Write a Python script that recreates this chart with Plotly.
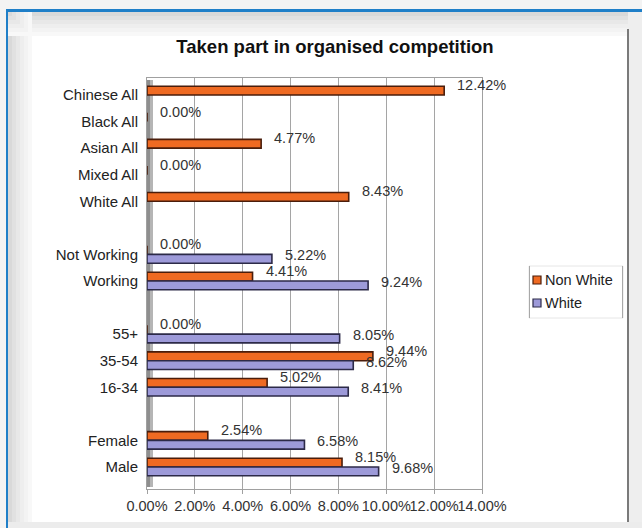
import plotly.graph_objects as go

# Participation rates (% taking part in organised competition)
categories = ["Chinese All", "Black All", "Asian All", "Mixed All", "White All", " ",
              "Not Working", "Working", "  ",
              "55+", "35-54", "16-34", "   ",
              "Female", "Male"]
non_white = [12.42, 0.00, 4.77, 0.00, 8.43, None,
             0.00, 4.41, None,
             0.00, 9.44, 5.02, None,
             2.54, 8.15]
white = [None, None, None, None, None, None,
         5.22, 9.24, None,
         8.05, 8.62, 8.41, None,
         6.58, 9.68]
series_names = ["Non White", "White"]
series_fill = ["#ef6a22", "#9d9ad9"]
series_edge = ["#4a1d0b", "#2c2a48"]
label_lift = [10, -1]   # vertical nudge of value labels (px) per series

W, H = 642, 528
PL, PR, PT, PB = 147, 482, 78, 489   # plot area in pixels

def px(x):
    return (x - PL) / (PR - PL)

def py(y):
    return (PB - y) / (PB - PT)

FONT = "Liberation Sans, Arial, sans-serif"

fig = go.Figure()
annotations = []
for name, vals, fill, edge, lift in zip(series_names, [non_white, white],
                                        series_fill, series_edge, label_lift):
    fig.add_trace(go.Bar(
        y=categories, x=vals, name=name, orientation="h",
        marker=dict(color=fill, line=dict(color=edge, width=1.6)),
        showlegend=False, hoverinfo="x+y+name",
    ))
    # value labels just beyond each bar end
    for cat, v in zip(categories, vals):
        if v is None:
            continue
        annotations.append(dict(
            text=f"{v:.2f}%", xref="x", yref="y", x=v, y=cat,
            xanchor="left", yanchor="middle", xshift=11, yshift=lift,
            showarrow=False, font=dict(family=FONT, size=14.5, color="#333")))

shapes = []

def rect(x0, y0, x1, y1, color, line=None, layer="below"):
    shapes.append(dict(type="rect", xref="paper", yref="paper",
                       x0=px(x0), x1=px(x1), y0=py(y1), y1=py(y0),
                       fillcolor=color,
                       line=line if line else dict(width=0), layer=layer))

# outer frame
rect(0, 0, W, 9, "#f3f3f3")
rect(0, 0, 6, H, "#f3f3f3")
rect(6, 9, W, 12, "#1f7fc8")
rect(6, 9, 8, H, "#1f7fc8")
# soft grey shading inside the frame
for i, c in enumerate(["#d9d9d9", "#e1e1e1", "#e8e8e8", "#eeeeee", "#f3f3f3", "#f8f8f8"]):
    rect(8, 12 + i * 4, 628, 16 + i * 4, c)
    rect(8 + i * 4, 12, 12 + i * 4, 522, c)
rect(628, 12, W, H, "#eeeeee")
rect(8, 522, W, H, "#ececec")
rect(627, 29, 629, 522, "#7a7a7a")
# shaded side wall of the plot
rect(147, 80, 150, 487, "#8e8e8e")
rect(150, 80, 153, 487, "#b5b5b5")

# legend box with swatches
rect(529, 266, 623, 318, "white", line=dict(color="#e6e6e6", width=1))
rect(529, 266, 530, 318, "#a8a8a8")
rect(622, 266, 623, 318, "#a8a8a8")
for i, (name, fill, edge) in enumerate(zip(series_names, series_fill, series_edge)):
    yc = 280 + i * 23
    rect(533, yc - 4, 541, yc + 4, fill, line=dict(color=edge, width=1.2), layer="above")
    annotations.append(dict(text=name, xref="paper", yref="paper",
                            x=px(543), y=py(yc), xanchor="left", yanchor="middle",
                            showarrow=False,
                            font=dict(family=FONT, size=14.5, color="#222")))

fig.update_layout(
    width=W, height=H,
    margin=dict(l=PL, r=W - PR, t=PT, b=H - PB, autoexpand=False),
    paper_bgcolor="white", plot_bgcolor="rgba(0,0,0,0)",
    barmode="group", bargap=0.34, bargroupgap=0.0,
    font=dict(family=FONT, size=14, color="#222"),
    title=dict(text="<b>Taken part in organised competition</b>",
               x=335 / W, xref="container", xanchor="center",
               y=1 - 47 / H, yref="container", yanchor="middle",
               font=dict(family=FONT, size=18.5, color="#111")),
    shapes=shapes,
    annotations=annotations,
    showlegend=False,
)
fig.update_xaxes(range=[0, 14], dtick=2, tickformat=".2f", ticksuffix="%",
                 tickangle=0, automargin=False,
                 showgrid=True, gridcolor="#a5a5a5", gridwidth=1,
                 showline=True, linecolor="#a0a0a0", mirror=True,
                 ticks="outside", ticklen=4, tickcolor="#a0a0a0",
                 zeroline=False, tickfont=dict(size=14.5, color="#333"))
fig.update_yaxes(type="category", categoryorder="array", categoryarray=categories,
                 range=[14.83, -0.64], showgrid=False, automargin=False,
                 showline=True, linecolor="#a0a0a0", mirror=True,
                 ticks="", ticklabelstandoff=5,
                 tickfont=dict(size=15, color="#222"))

fig.write_html("out.html")
